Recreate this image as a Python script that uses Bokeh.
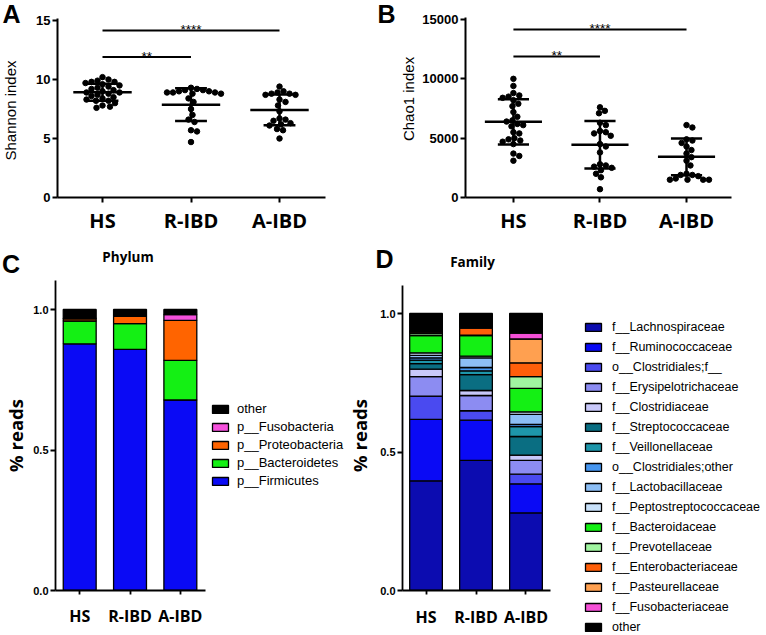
import numpy as np
from bokeh.plotting import figure
from bokeh.models import (ColumnDataSource, FixedTicker, Legend, LegendItem, Range1d)
from bokeh.layouts import row, column
from bokeh.embed import file_html
from bokeh.resources import INLINE
from bokeh.core.properties import value

# ---------------- data ----------------
categories = ["HS", "R-IBD", "A-IBD"]
cat_pos = [1, 2, 3]

shannon_HS = [10.2, 10.0, 9.9, 9.8, 9.8, 9.7, 9.6, 9.5, 9.4, 9.3, 9.2, 9.1, 9.0, 8.9,
              8.9, 8.8, 8.7, 8.6, 8.5, 8.4, 8.3, 8.2, 8.2, 8.0, 7.8, 7.7, 7.6]
shannon_RIBD = [9.3, 9.2, 9.1, 9.1, 9.0, 9.0, 8.9, 8.9, 8.9, 8.8, 8.8, 8.4, 8.1, 7.5,
                7.0, 6.6, 6.4, 5.7, 5.6, 4.7]
shannon_AIBD = [9.4, 9.0, 8.9, 8.8, 8.8, 8.7, 8.7, 8.3, 8.1, 7.8, 7.3, 6.7, 6.6, 6.5,
                6.3, 6.2, 6.1, 5.8, 5.7, 5.0]
shannon_mean = [8.92, 7.87, 7.42]
shannon_sd = [0.72, 1.39, 1.30]
shannon_sig_level = [11.9, 14.15]

chao_HS = [10000, 9400, 8800, 8600, 8500, 8400, 8200, 7900, 7700, 7200, 6800, 6500, 6400,
           6200, 6100, 6000, 5500, 5400, 5000, 4900, 4800, 4700, 4500, 3700, 3500, 3100]
chao_RIBD = [7600, 7300, 7100, 6300, 6100, 5600, 5500, 5400, 5200, 4500, 4300, 3800, 2800,
             2700, 2600, 2500, 2300, 2000, 1700, 700]
chao_AIBD = [6100, 5900, 4900, 4800, 4600, 4300, 4000, 3700, 3400, 3100, 2700, 2000, 1900,
             1900, 1800, 1600, 1500, 1500, 1500, 1500]
chao_mean = [6380, 4440, 3430]
chao_sd = [1910, 2000, 1545]
chao_sig_level = [11880, 14160]

sig_pairs = [(0, 1, "**"), (0, 2, "****")]

phylum_names = ["p__Firmicutes", "p__Bacteroidetes", "p__Proteobacteria", "p__Fusobacteria", "other"]
p_firmicutes = [0.878, 0.858, 0.678]
p_bacteroidetes = [0.081, 0.092, 0.141]
p_proteobacteria = [0.008, 0.026, 0.142]
p_fusobacteria = [0.002, 0.001, 0.021]
p_other = [0.031, 0.023, 0.018]
phylum_colors = ["#0a0af5", "#14f014", "#ff6400", "#f550dc", "#000000"]

family_names = ["f__Lachnospiraceae", "f__Ruminococcaceae", "o__Clostridiales;f__",
                "f__Erysipelotrichaceae", "f__Clostridiaceae", "f__Streptococcaceae",
                "f__Veillonellaceae", "o__Clostridiales;other", "f__Lactobacillaceae",
                "f__Peptostreptococcaceae", "f__Bacteroidaceae", "f__Prevotellaceae",
                "f__Enterobacteriaceae", "f__Pasteurellaceae", "f__Fusobacteriaceae", "other"]
f_lachnospiraceae = [0.396, 0.470, 0.280]
f_ruminococcaceae = [0.222, 0.145, 0.105]
o_clostridiales_f = [0.084, 0.034, 0.035]
f_erysipelotrichaceae = [0.070, 0.055, 0.050]
f_clostridiaceae = [0.027, 0.018, 0.019]
f_streptococcaceae = [0.020, 0.057, 0.067]
f_veillonellaceae = [0.013, 0.014, 0.036]
o_clostridiales_other = [0.008, 0.012, 0.008]
f_lactobacillaceae = [0.009, 0.035, 0.036]
f_peptostreptococcaceae = [0.009, 0.006, 0.009]
f_bacteroidaceae = [0.062, 0.074, 0.085]
f_prevotellaceae = [0.007, 0.002, 0.042]
f_enterobacteriaceae = [0.006, 0.025, 0.050]
f_pasteurellaceae = [0.002, 0.001, 0.086]
f_fusobacteriaceae = [0.001, 0.001, 0.021]
f_other = [0.064, 0.051, 0.071]
family_colors = ["#0c0cb0", "#0a0af5", "#4a4af0", "#8c8cf2", "#c8c8fa", "#0a6e82",
                 "#1e96aa", "#4696f0", "#8cbef5", "#c8e1fa", "#14f014", "#a0f5a0",
                 "#ff5f0a", "#ffa050", "#f550d7", "#000000"]

ARIAL = "Liberation Sans"
OPEN = "Open Sans"

ROW1_H = 240
ROW1_BOTTOM = 43
HEAD2_H = 40
ROW2_H = 354
ROW2_BOTTOM = 44
ROW2_TOP_PX = ROW1_H + HEAD2_H


def swarm_offsets(vals, ypx, xpx, d):
    placed = []
    offs = [0.0] * len(vals)
    order = sorted(range(len(vals)), key=lambda i: -vals[i])
    for i in order:
        y = vals[i] * ypx
        best = None
        k = 0
        while best is None:
            cands = [0.0] if k == 0 else [k * 0.5, -k * 0.5]
            for s in cands:
                if all((s - px) ** 2 + (y - py) ** 2 >= d * d for px, py in placed):
                    best = s
                    break
            k += 1
        placed.append((best, y))
        offs[i] = best / xpx
    return offs


def base_style(p):
    p.xgrid.visible = False
    p.ygrid.visible = False
    p.outline_line_color = None
    p.background_fill_color = "white"
    p.border_fill_color = "white"


def black_axes(p):
    for ax in (p.xaxis[0], p.yaxis[0]):
        ax.axis_line_color = "black"
        ax.major_tick_line_color = "black"
        ax.major_label_text_color = "black"
        ax.axis_label_text_color = "black"


def text_strip(width, height, bottom, texts):
    fh = height - bottom
    s = figure(width=width, height=height, x_range=Range1d(0, width), y_range=Range1d(fh, 0),
               min_border_left=0, min_border_right=0, min_border_top=0,
               min_border_bottom=bottom, x_axis_location=None, y_axis_location=None,
               output_backend="svg", toolbar_location=None)
    base_style(s)
    for (txt, x, y, font, size, style, angle) in texts:
        s.text([x], [y], text=[txt], text_align="center", text_baseline="middle",
               angle=angle, text_font=value(font), text_font_size=size,
               text_font_style=style, text_color="black")
    return s


def dot_panel(width, mb_left, groups, means, sds, y0px, y_top_val_px, top_val, axis_top_px,
              yticks, ylabel, sig_levels, xstart, fwidth, label_standoff):
    fh = ROW1_H - ROW1_BOTTOM
    unit = (y0px - y_top_val_px) / top_val
    yend = fh / unit
    p = figure(width=width, height=ROW1_H, min_border_left=mb_left,
               min_border_right=width - mb_left - fwidth, min_border_top=0,
               min_border_bottom=ROW1_BOTTOM,
               x_range=Range1d(xstart, xstart + fwidth / 88.5),
               y_range=Range1d(0, yend), output_backend="svg", toolbar_location=None)
    base_style(p)
    for ci, vals in enumerate(groups):
        offs = swarm_offsets(vals, unit, 88.5, 6.0)
        xs = [cat_pos[ci] + o for o in offs]
        p.scatter(xs, vals, size=5.5, color="black")
    xm = np.array(cat_pos, dtype=float)
    m = np.array(means, dtype=float)
    s = np.array(sds, dtype=float)
    p.segment(xm - 0.33, m, xm + 0.33, m, line_width=2.5, color="black")
    p.segment(xm, m - s, xm, m + s, line_width=2.5, color="black")
    p.segment(xm - 0.18, m + s, xm + 0.18, m + s, line_width=2.5, color="black")
    p.segment(xm - 0.18, m - s, xm + 0.18, m - s, line_width=2.5, color="black")
    for (a, b, stars), lvl in zip(sig_pairs, sig_levels):
        p.segment([cat_pos[a]], [lvl], [cat_pos[b]], [lvl], line_width=2, color="black")
        p.text([(cat_pos[a] + cat_pos[b]) / 2], [lvl], text=[stars], text_align="center",
               text_baseline="alphabetic", y_offset=-1, text_font=value(ARIAL),
               text_font_size="13.5px", text_color="black")
    p.xaxis.ticker = FixedTicker(ticks=cat_pos)
    p.xaxis.major_label_overrides = {c: t for c, t in zip(cat_pos, categories)}
    p.yaxis.ticker = FixedTicker(ticks=yticks)
    p.yaxis.bounds = (0, (y0px - axis_top_px) / unit)
    for ax in (p.xaxis[0], p.yaxis[0]):
        ax.axis_line_width = 2
        ax.major_tick_line_width = 2
        ax.major_tick_in = 0
        ax.major_tick_out = 5
        ax.minor_tick_line_color = None
    black_axes(p)
    p.xaxis.major_label_text_font = OPEN
    p.xaxis.major_label_text_font_style = "bold"
    p.xaxis.major_label_text_font_size = "20px"
    p.xaxis.major_label_standoff = 4
    p.yaxis.major_label_text_font = ARIAL
    p.yaxis.major_label_text_font_style = "bold"
    p.yaxis.major_label_text_font_size = "13px"
    p.yaxis.major_label_standoff = 2
    if ylabel:
        p.yaxis.axis_label = ylabel
        p.yaxis.axis_label_text_font = ARIAL
        p.yaxis.axis_label_text_font_style = "normal"
        p.yaxis.axis_label_text_font_size = "15px"
        p.yaxis.axis_label_standoff = label_standoff
    return p


def bar_panel(width, mb_left, xstart, fwidth, one_px, axis_top_px, series, colors,
              label_standoff, tick_standoff):
    fh = ROW2_H - ROW2_BOTTOM
    frame_bottom_px = ROW2_TOP_PX + fh
    unit = frame_bottom_px - one_px
    yend = fh / unit
    p = figure(width=width, height=ROW2_H, min_border_left=mb_left,
               min_border_right=width - mb_left - fwidth,
               min_border_top=0, min_border_bottom=ROW2_BOTTOM,
               x_range=Range1d(xstart, xstart + fwidth / 52.0), y_range=Range1d(0, yend),
               output_backend="svg", toolbar_location=None)
    base_style(p)
    keys = ["s%d" % i for i in range(len(series))]
    data = {"x": cat_pos}
    for k, v in zip(keys, series):
        data[k] = v
    src = ColumnDataSource(data)
    p.vbar_stack(keys, x="x", width=0.654, source=src, fill_color=colors,
                 line_color="black", line_width=1.3)
    p.xaxis.ticker = FixedTicker(ticks=cat_pos)
    p.xaxis.major_label_overrides = {c: t for c, t in zip(cat_pos, categories)}
    p.yaxis.ticker = FixedTicker(ticks=[0, 0.5, 1.0])
    p.yaxis.major_label_overrides = {0: "0.0", 0.5: "0.5", 1: "1.0"}
    p.yaxis.bounds = (0, (frame_bottom_px - axis_top_px) / unit)
    for ax in (p.xaxis[0], p.yaxis[0]):
        ax.axis_line_width = 1.8
        ax.major_tick_line_width = 1.8
        ax.major_tick_in = 0
        ax.major_tick_out = 5
        ax.minor_tick_line_color = None
    black_axes(p)
    p.xaxis.major_tick_out = 4
    p.xaxis.major_label_text_font = OPEN
    p.xaxis.major_label_text_font_style = "bold"
    p.xaxis.major_label_text_font_size = "16px"
    p.xaxis.major_label_standoff = tick_standoff
    p.yaxis.major_label_text_font = ARIAL
    p.yaxis.major_label_text_font_style = "bold"
    p.yaxis.major_label_text_font_size = "11px"
    p.yaxis.major_label_standoff = 2
    p.yaxis.axis_label = "% reads"
    p.yaxis.axis_label_text_font = OPEN
    p.yaxis.axis_label_text_font_style = "bold"
    p.yaxis.axis_label_text_font_size = "18.5px"
    p.yaxis.axis_label_standoff = label_standoff
    return p


def legend_panel(width, bottom, names, colors, reverse, loc, font, lh, spacing, standoff):
    lp = figure(width=width, height=ROW2_H, x_range=Range1d(0, 1), y_range=Range1d(0, 1),
                min_border_left=0, min_border_right=0, min_border_top=0,
                min_border_bottom=bottom, x_axis_location=None, y_axis_location=None,
                output_backend="svg", toolbar_location=None)
    base_style(lp)
    items = []
    nan = float("nan")
    for n, c in zip(names, colors):
        # swatch-only renderer: its single NaN bar is never drawn, only its legend entry
        r = lp.vbar(x=[nan], top=[nan], width=0.5, fill_color=c, line_color="black",
                    line_width=1.3)
        items.append(LegendItem(label=n, renderers=[r]))
    if reverse:
        items = items[::-1]
    leg = Legend(items=items, location=loc, orientation="vertical", glyph_width=20,
                 glyph_height=10, label_height=lh, spacing=spacing, label_standoff=standoff,
                 padding=0, margin=0, border_line_color=None, background_fill_alpha=0,
                 label_text_font=ARIAL, label_text_font_size=font, label_text_color="black")
    lp.add_layout(leg, "center")
    return lp


# ---------------- row 1 : diversity ----------------
stripA = text_strip(24, ROW1_H, ROW1_BOTTOM,
                    [("A", 11, 13, ARIAL, "25px", "bold", 0),
                     ("Shannon index", 10, 110, ARIAL, "15px", "normal", np.pi / 2)])
pA = dot_panel(350, 33, [shannon_HS, shannon_RIBD, shannon_AIBD], shannon_mean, shannon_sd,
               197, 20, 15, 18, [0, 5, 10, 15], None, shannon_sig_level, 0.4915, 268, 0)
stripB = text_strip(23, ROW1_H, ROW1_BOTTOM, [("B", 12, 13, ARIAL, "25px", "bold", 0)])
pB = dot_panel(367, 62, [chao_HS, chao_RIBD, chao_AIBD], chao_mean, chao_sd,
               197, 19, 15000, 17, [0, 5000, 10000, 15000], "Chao1 index", chao_sig_level,
               0.4463, 272, 2)

# ---------------- row 2 : taxonomy ----------------
header2 = text_strip(764, HEAD2_H, 0, [("C", 10.5, 23.5, ARIAL, "25px", "bold", 0),
                                       ("Phylum", 127.5, 16, OPEN, "13.5px", "bold", 0),
                                       ("D", 384, 18.5, ARIAL, "25px", "bold", 0),
                                       ("Family", 472, 21.5, OPEN, "13.5px", "bold", 0)])

pC = bar_panel(206, 50, 0.519, 155, 309, 280,
               [p_firmicutes, p_bacteroidetes, p_proteobacteria, p_fusobacteria, p_other],
               phylum_colors, 2, 10)
legC = legend_panel(138, ROW2_BOTTOM, phylum_names, phylum_colors, True, (4, 102),
                    "13px", 15, 3, 7)
pD = bar_panel(207, 52, 0.529, 154, 313, 285,
               [f_lachnospiraceae, f_ruminococcaceae, o_clostridiales_f, f_erysipelotrichaceae,
                f_clostridiaceae, f_streptococcaceae, f_veillonellaceae, o_clostridiales_other,
                f_lactobacillaceae, f_peptostreptococcaceae, f_bacteroidaceae, f_prevotellaceae,
                f_enterobacteriaceae, f_pasteurellaceae, f_fusobacteriaceae, f_other],
               family_colors, 5, 11)
legD = legend_panel(213, 0, family_names, family_colors, False, (32, 0),
                    "12.5px", 15, 5, 9)

layout = column(row(stripA, pA, stripB, pB), header2, row(pC, legC, pD, column(legD)))
open("out.html", "w").write(file_html(layout, INLINE))
